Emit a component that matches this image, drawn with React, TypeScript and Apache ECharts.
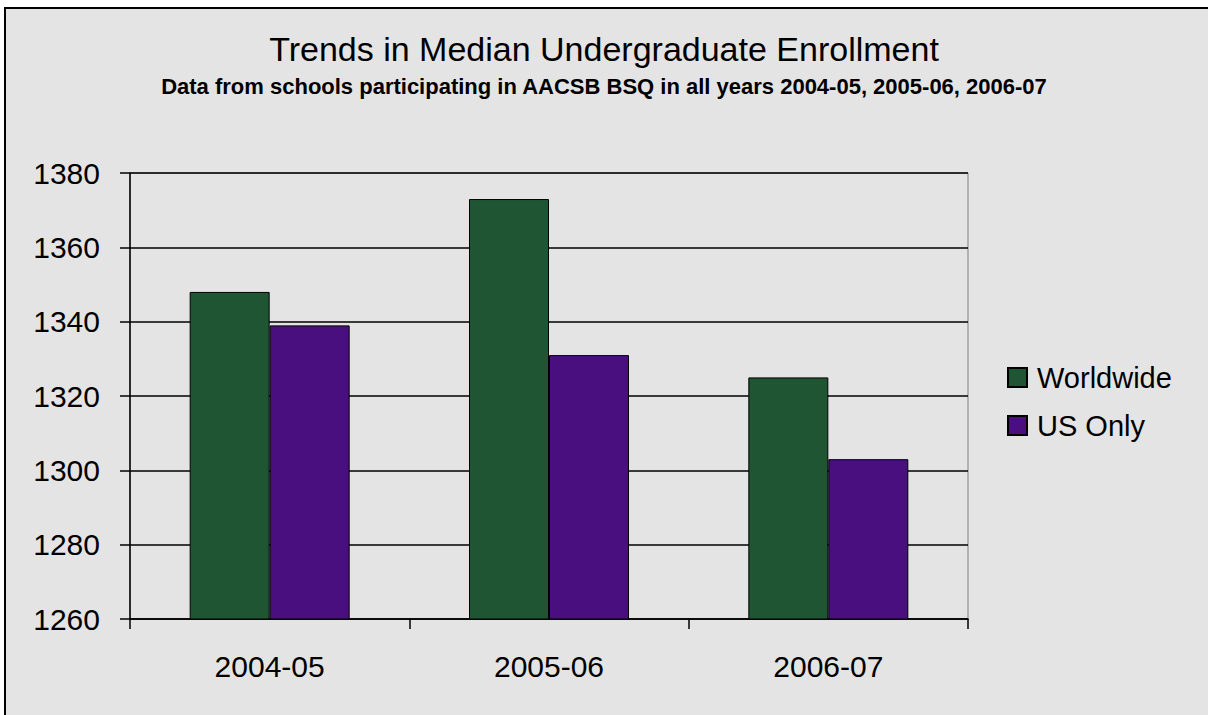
import React, { useEffect, useRef } from "react";
import * as echarts from "echarts";

const categories = ["2004-05", "2005-06", "2006-07"];
const worldwide = [1348, 1373, 1325];
const usOnly = [1339, 1331, 1303];
const yMin = 1260;
const yMax = 1380;
const yInterval = 20;

const titleText = "Trends in Median Undergraduate Enrollment";
const subtitleText =
  "Data from schools participating in AACSB BSQ in all years 2004-05, 2005-06, 2006-07";

const FONT = "'Liberation Sans', Arial, sans-serif";

export default function App() {
  const ref = useRef<HTMLDivElement>(null);
  useEffect(() => {
    if (!ref.current) return;
    const chart = echarts.init(ref.current, null, { renderer: "svg" });
    chart.setOption({
      animation: false,
      backgroundColor: "#ffffff",
      graphic: [
        {
          type: "rect",
          z: -100,
          zlevel: 0,
          silent: true,
          shape: { x: 5, y: 8, width: 1215, height: 720 },
          style: { fill: "#e4e4e4", stroke: "#000000", lineWidth: 2 },
        },
      ],
      title: [
        {
          text: titleText,
          left: "center",
          top: 32,
          padding: 0,
          textStyle: {
            fontFamily: FONT,
            fontSize: 34,
            fontWeight: "normal",
            color: "#000",
          },
        },
        {
          text: subtitleText,
          left: "center",
          top: 75,
          padding: 0,
          textStyle: {
            fontFamily: FONT,
            fontSize: 22,
            fontWeight: "bold",
            color: "#000",
          },
        },
      ],
      legend: {
        orient: "vertical",
        left: 1002,
        top: 358,
        itemWidth: 19,
        itemHeight: 19,
        itemGap: 19,
        icon: "rect",
        data: ["Worldwide", "US Only"],
        textStyle: {
          fontFamily: FONT,
          fontSize: 29,
          color: "#000",
          padding: [0, 0, 0, 5],
        },
      },
      grid: {
        left: 130,
        right: 240,
        top: 173,
        bottom: 96,
        show: true,
        borderColor: "#808080",
        borderWidth: 1,
        backgroundColor: "transparent",
      },
      xAxis: {
        type: "category",
        data: categories,
        axisLine: { show: true, lineStyle: { color: "#000", width: 1.5 } },
        axisTick: { show: true, inside: false, length: 10, lineStyle: { color: "#000", width: 1.5 } },
        axisLabel: { fontFamily: FONT, fontSize: 30, color: "#000", margin: 32 },
        splitLine: { show: false },
      },
      yAxis: {
        type: "value",
        min: yMin,
        max: yMax,
        interval: yInterval,
        axisLine: { show: true, lineStyle: { color: "#000", width: 1.5 } },
        axisTick: { show: true, inside: false, length: 10, lineStyle: { color: "#000", width: 1.5 } },
        axisLabel: {
          fontFamily: FONT,
          fontSize: 30,
          color: "#000",
          margin: 30,
          formatter: (v: number) => String(v),
        },
        splitLine: { show: true, lineStyle: { color: "#000", width: 1.5 } },
      },
      series: [
        {
          name: "Worldwide",
          type: "bar",
          data: worldwide,
          barWidth: 80,
          barGap: "0%",
          itemStyle: { color: "#1f5533", borderColor: "#000", borderWidth: 1 },
        },
        {
          name: "US Only",
          type: "bar",
          data: usOnly,
          barWidth: 80,
          barGap: "0%",
          itemStyle: { color: "#4a0f7e", borderColor: "#000", borderWidth: 1 },
        },
      ],
    });
    return () => chart.dispose();
  }, []);
  return (
    <div
      ref={ref}
      style={{ position: "absolute", left: 0, top: 0, width: 1208, height: 715 }}
    />
  );
}
